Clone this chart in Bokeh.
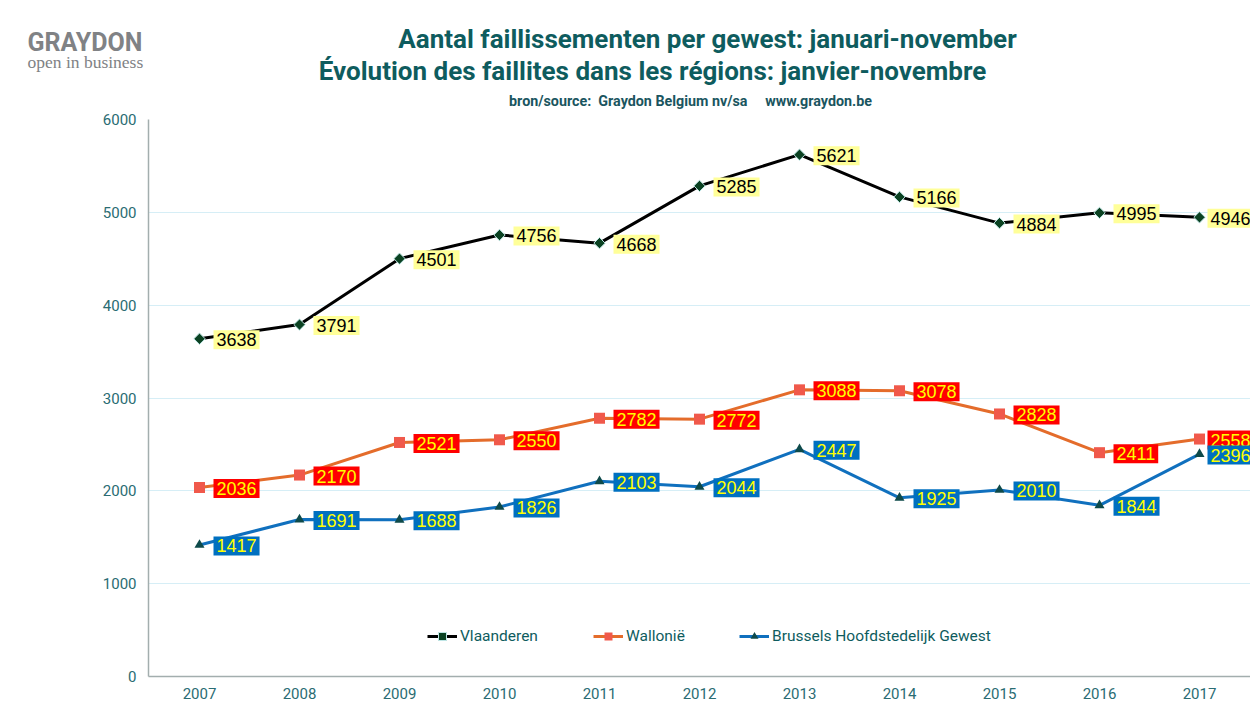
import math
from bokeh.plotting import figure
from bokeh.layouts import column
from bokeh.models import Range1d, FixedTicker, Legend, LegendItem, ColumnDataSource
from bokeh.core.properties import value
from bokeh.embed import file_html
from bokeh.resources import INLINE

years = [2007, 2008, 2009, 2010, 2011, 2012, 2013, 2014, 2015, 2016, 2017]
year_labels = ["2007", "2008", "2009", "2010", "2011", "2012", "2013", "2014", "2015", "2016", "2017"]
vlaanderen = [3638, 3791, 4501, 4756, 4668, 5285, 5621, 5166, 4884, 4995, 4946]
wallonie = [2036, 2170, 2521, 2550, 2782, 2772, 3088, 3078, 2828, 2411, 2558]
brussel = [1417, 1691, 1688, 1826, 2103, 2044, 2447, 1925, 2010, 1844, 2396]
y_ticks = [0, 1000, 2000, 3000, 4000, 5000, 6000]

title_nl = "Aantal faillissementen per gewest: januari-november"
title_fr = "Évolution des faillites dans les régions: janvier-novembre"
source_txt = "bron/source:\u00a0 Graydon Belgium nv/sa\u00a0\u00a0\u00a0\u00a0 www.graydon.be"

TEAL = "#0E5C5E"
TICK = "#2A6C73"
W = 1250
HEAD_H = 112

# ---------- header (titles + logo) ----------
h = figure(width=W, height=HEAD_H, output_backend="svg", toolbar_location=None,
           x_range=Range1d(0, W), y_range=Range1d(HEAD_H, 0),
           x_axis_type=None, y_axis_type=None, min_border=0,
           min_border_left=0, min_border_right=0, min_border_top=0, min_border_bottom=0)
h.outline_line_color = None
h.xgrid.grid_line_color = None
h.ygrid.grid_line_color = None

h.text(x=[707], y=[38], text=[title_nl], text_align="center", text_baseline="middle",
       text_font=value("Roboto"), text_font_style="bold", text_font_size="26px", text_color=TEAL)
h.text(x=[652], y=[70], text=[title_fr], text_align="center", text_baseline="middle",
       text_font=value("Roboto"), text_font_style="bold", text_font_size="26px", text_color=TEAL)
h.text(x=[690], y=[100], text=[source_txt], text_align="center", text_baseline="middle",
       text_font=value("Roboto"), text_font_style="bold", text_font_size="14.3px", text_color="#1A5560")
h.text(x=[27], y=[42], text=["GRAYDON"], text_align="left", text_baseline="middle",
       text_font=value("Roboto"), text_font_style="bold", text_font_size="25px", text_color="#808285")
h.text(x=[27], y=[61], text=["open in business"], text_align="left", text_baseline="middle",
       text_font=value("Liberation Serif"), text_font_size="17.5px", text_color="#808285")

# ---------- main chart ----------
p = figure(width=W, height=722 - HEAD_H, output_backend="svg", toolbar_location=None,
           x_range=Range1d(2006.49, 2017.51), y_range=Range1d(0, 6000),
           min_border_left=148, min_border_right=0, min_border_top=119 - HEAD_H,
           min_border_bottom=46)
p.outline_line_color = None

for fig in (h, p):
    try:
        fig.frame_align = False
    except Exception:
        pass

for ax in (p.xaxis[0], p.yaxis[0]):
    ax.axis_line_color = "#A3AEAE"
    ax.axis_line_width = 1.5
    ax.major_tick_line_color = None
    ax.minor_tick_line_color = None
    ax.major_label_text_font = "Roboto"
    ax.major_label_text_font_size = "15px"
    ax.major_label_text_color = TICK
p.xaxis.major_label_standoff = 5
p.yaxis.major_label_standoff = 6
p.xaxis.ticker = FixedTicker(ticks=years)
p.xaxis.major_label_overrides = {y: l for y, l in zip(years, year_labels)}
p.yaxis.ticker = FixedTicker(ticks=y_ticks)
p.xgrid.grid_line_color = None
p.ygrid.grid_line_color = "#D6EEF6"
p.ygrid.grid_line_width = 1

series = [
    ("Vlaanderen", vlaanderen, "black", "square", math.pi / 4, "#0B4222", "#BFE6E6", 8, "#FFFF99", "black"),
    ("Wallonië", wallonie, "#E46C2B", "square", 0, "#F0594B", None, 11, "#FF0000", "#FFFF00"),
    ("Brussels Hoofdstedelijk Gewest", brussel, "#1070BE", "triangle", 0, "#0E4A4A", None, 10, "#0070C0", "#FFFF00"),
]
legend_x = [427 - 148, 593 - 148, 739 - 148]

sources = []
for (name, vals, lc, marker, ang, mf, ml, ms, bg, tc), lx in zip(series, legend_x):
    # label offset: last point nudged closer so the label fits (as in the original)
    dx = [14] * (len(vals) - 1) + [8]
    src = ColumnDataSource(dict(x=years, y=vals, t=[str(v) for v in vals], dx=dx))
    lr = p.line("x", "y", source=src, line_color=lc, line_width=3)
    sr = p.scatter("x", "y", source=src, marker=marker, angle=ang, size=ms, fill_color=mf,
                   line_color=ml if ml else mf, line_width=1 if ml else 0)
    leg = Legend(items=[LegendItem(label=name, renderers=[lr, sr])], location=(lx, 30),
                 orientation="horizontal", padding=0, margin=0, border_line_color=None,
                 background_fill_alpha=0, glyph_width=30, glyph_height=20, label_height=20,
                 label_standoff=3, label_text_font="Roboto", label_text_font_size="15.5px",
                 label_text_color=TEAL)
    p.add_layout(leg)
    sources.append(src)

for (name, vals, lc, marker, ang, mf, ml, ms, bg, tc), src in zip(series, sources):
    p.text("x", "y", text="t", source=src, x_offset="dx", y_offset=1, text_align="left",
           text_baseline="middle", text_font=value("Liberation Sans"), text_font_size="18px",
           text_color=tc, background_fill_color=bg, padding=3)

open("out.html", "w").write(file_html(column(h, p, spacing=0), INLINE))
